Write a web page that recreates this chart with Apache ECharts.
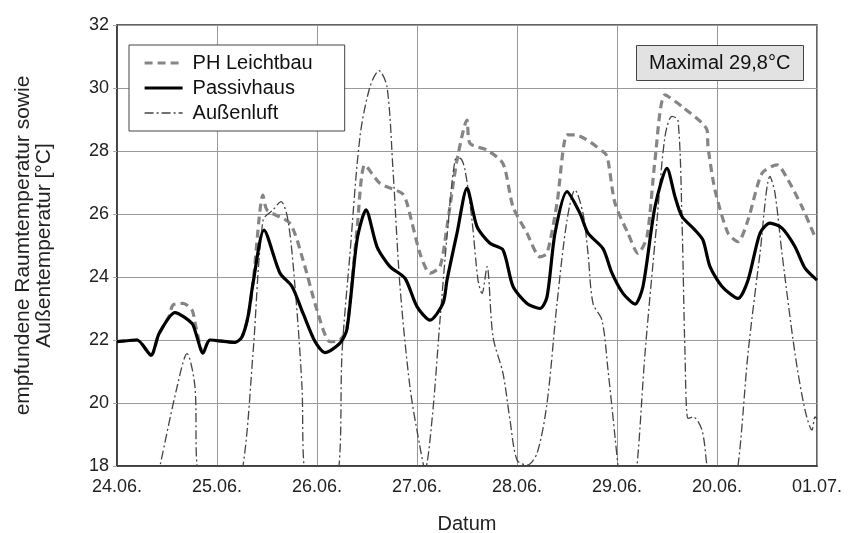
<!DOCTYPE html>
<html>
<head>
<meta charset="utf-8">
<script src="https://cdn.jsdelivr.net/npm/echarts@6/dist/echarts.min.js"></script>
<style>html,body{margin:0;padding:0;background:#fff}#c{width:851px;height:533px}</style>
</head>
<body>
<div id="c"></div>
<script>
// x in days since 24.06. 00:00
const dateLabels = ["24.06.", "25.06.", "26.06.", "27.06.", "28.06.", "29.06.", "20.06.", "01.07."];
const seriesNames = ["PH Leichtbau", "Passivhaus", "Außenluft"];

const passivhaus = [
  [0.00,21.95],[0.20,22.0],[0.34,21.52],[0.42,22.2],[0.58,22.87],[0.75,22.53],[0.79,22.2],[0.86,21.58],[0.93,22.0],
  [1.18,21.92],[1.25,22.1],[1.31,22.74],[1.36,23.8],[1.47,25.49],[1.63,24.12],[1.75,23.7],[1.86,22.85],[1.98,21.95],
  [2.08,21.6],[2.23,21.9],[2.30,22.35],[2.40,25.17],[2.49,26.13],[2.60,24.96],[2.73,24.33],[2.88,23.96],[3.00,23.06],
  [3.13,22.63],[3.26,23.16],[3.30,23.9],[3.40,25.39],[3.50,26.82],[3.60,25.6],[3.73,25.07],[3.86,24.86],[3.96,23.7],
  [4.10,23.16],[4.23,23.0],[4.30,23.37],[4.38,25.39],[4.50,26.71],[4.63,26.02],[4.71,25.39],[4.86,24.9],[4.95,24.12],
  [5.06,23.48],[5.18,23.14],[5.26,23.7],[5.38,26.23],[5.50,27.45],[5.58,26.55],[5.65,25.92],[5.78,25.49],[5.86,25.17],
  [5.93,24.33],[6.05,23.7],[6.21,23.32],[6.31,23.9],[6.43,25.39],[6.53,25.71],[6.65,25.55],[6.78,24.96],[6.88,24.28],
  [7.00,23.9]
];

const leichtbau = [
  [0.00,21.95],[0.20,22.0],[0.34,21.52],[0.42,22.2],[0.52,22.75],[0.56,23.11],[0.66,23.16],[0.75,22.95],[0.79,22.4],
  [0.86,21.6],[0.93,22.0],[1.18,21.92],[1.25,22.1],[1.31,22.74],[1.36,23.8],[1.46,26.6],[1.50,26.13],[1.73,25.7],
  [1.86,24.54],[2.00,22.95],[2.13,21.95],[2.23,22.0],[2.30,22.4],[2.40,25.5],[2.48,27.56],[2.63,26.97],[2.85,26.66],
  [2.90,26.34],[3.03,24.75],[3.13,24.12],[3.23,24.33],[3.30,25.6],[3.40,27.71],[3.50,28.98],[3.53,28.24],[3.70,28.03],
  [3.86,27.6],[3.96,26.23],[4.10,25.39],[4.23,24.64],[4.30,24.75],[4.40,26.34],[4.50,28.51],[4.58,28.51],[4.88,27.93],
  [4.91,27.71],[4.98,26.34],[5.11,25.39],[5.21,24.75],[5.30,25.28],[5.38,27.71],[5.48,29.78],[5.65,29.41],[5.90,28.67],
  [5.91,28.14],[5.98,26.76],[6.11,25.39],[6.21,25.12],[6.31,25.81],[6.45,27.29],[6.60,27.56],[6.71,27.08],[6.85,26.23],
  [6.98,25.28],[7.00,25.2]
];

const aussenluft = [
  [0.00,16.5],[0.20,14.5],[0.43,18.0],[0.60,20.5],[0.70,21.57],[0.78,20.5],[0.80,18.0],[1.00,14.0],[1.26,18.0],
  [1.36,21.57],[1.46,25.8],[1.56,26.13],[1.64,26.39],[1.71,25.8],[1.78,23.7],[1.85,20.5],[1.87,18.0],[2.05,14.5],
  [2.22,18.0],[2.25,21.57],[2.33,24.75],[2.43,28.46],[2.53,30.04],[2.62,30.55],[2.70,30.04],[2.76,27.4],[2.83,23.7],
  [2.93,20.5],[3.03,18.6],[3.08,17.9],[3.15,19.46],[3.23,22.63],[3.30,25.28],[3.38,27.71],[3.43,27.77],[3.48,27.4],
  [3.55,25.8],[3.61,23.9],[3.65,23.48],[3.70,24.33],[3.76,22.1],[3.86,20.94],[3.93,19.46],[4.00,18.19],[4.10,18.03],
  [4.20,18.4],[4.30,19.99],[4.40,23.16],[4.50,25.8],[4.58,26.76],[4.66,26.02],[4.71,24.75],[4.76,23.16],[4.85,22.63],
  [4.91,21.05],[4.98,18.93],[5.01,18.0],[5.10,15.5],[5.20,18.0],[5.28,21.57],[5.40,25.8],[5.48,28.46],[5.55,29.1],
  [5.61,28.98],[5.65,25.8],[5.68,21.57],[5.71,19.51],[5.76,19.56],[5.85,19.14],[5.90,18.0],[6.05,15.0],[6.21,18.0],
  [6.31,21.57],[6.43,24.75],[6.53,27.19],[6.58,26.66],[6.65,24.75],[6.78,21.57],[6.88,19.78],[6.95,19.14],[6.98,19.56],
  [7.00,19.5]
];

const yMin = 18, yMax = 32, yStep = 2;
const maxNote = "Maximal 29,8°C";

const FONT = "Liberation Sans, Arial, sans-serif";
const styles = [
  {color: '#858585', width: 3.2, type: [8, 5]},
  {color: '#000000', width: 3.2, type: 'solid'},
  {color: '#444444', width: 1.3, type: [9, 3, 2, 3]}
];
const chart = echarts.init(document.getElementById('c'), null, {renderer: 'canvas'});
chart.setOption({
  animation: false,
  backgroundColor: '#ffffff',
  textStyle: {fontFamily: FONT},
  grid: {left: 117, right: 34, top: 25, bottom: 67, show: true, borderColor: '#333', borderWidth: 1.5,
         containLabel: false, outerBoundsMode: 'none'},
  title: {
    text: maxNote, left: 636, top: 45,
    backgroundColor: '#e2e2e2', borderColor: '#444', borderWidth: 1,
    padding: [8, 13, 8, 13],
    textStyle: {fontFamily: FONT, fontSize: 20, fontWeight: 'normal', color: '#111', lineHeight: 20}
  },
  legend: {
    left: 129, top: 45, orient: 'vertical',
    data: seriesNames.map((n, i) => ({name: n, lineStyle: {color: styles[i].color, width: styles[i].width, type: styles[i].type}})),
    backgroundColor: '#fff', borderColor: '#444', borderWidth: 1,
    padding: [8, 32, 8, 14],
    itemWidth: 38, itemHeight: 14, itemGap: 5,
    itemStyle: {opacity: 0},
    textStyle: {fontFamily: FONT, fontSize: 20, color: '#111', padding: [0, 0, 0, 5]}
  },
  xAxis: {
    type: 'value', min: 0, max: 7, interval: 1,
    name: 'Datum', nameLocation: 'middle', nameGap: 48,
    nameTextStyle: {fontFamily: FONT, fontSize: 20, color: '#222'},
    axisLine: {show: true, lineStyle: {color: '#333', width: 1.5}},
    axisTick: {show: false},
    axisLabel: {fontFamily: FONT, fontSize: 18, color: '#222', margin: 12,
      formatter: v => dateLabels[Math.round(v)] || ''},
    splitLine: {show: true, lineStyle: {color: '#999', width: 1}}
  },
  yAxis: {
    type: 'value', min: yMin, max: yMax, interval: yStep,
    name: 'empfundene Raumtemperatur sowie\nAußentemperatur [°C]',
    nameLocation: 'middle', nameGap: 62, nameRotate: 90,
    nameTextStyle: {fontFamily: FONT, fontSize: 21, color: '#222', lineHeight: 21},
    axisLine: {show: true, lineStyle: {color: '#333', width: 1.5}},
    axisTick: {show: true, length: 4, lineStyle: {color: '#aaa'}},
    axisLabel: {fontFamily: FONT, fontSize: 18, color: '#222', margin: 8},
    splitLine: {show: true, lineStyle: {color: '#999', width: 1}}
  },
  series: [
    {name: seriesNames[0], type: 'line', data: leichtbau, symbol: 'none', smooth: 0.25, clip: true, z: 2,
     lineStyle: styles[0], itemStyle: {color: styles[0].color}},
    {name: seriesNames[1], type: 'line', data: passivhaus, symbol: 'none', smooth: 0.25, clip: true, z: 4,
     lineStyle: styles[1], itemStyle: {color: styles[1].color}},
    {name: seriesNames[2], type: 'line', data: aussenluft, symbol: 'none', smooth: 0.3, clip: true, z: 3,
     lineStyle: styles[2], itemStyle: {color: styles[2].color}}
  ]
});
</script>
</body>
</html>
